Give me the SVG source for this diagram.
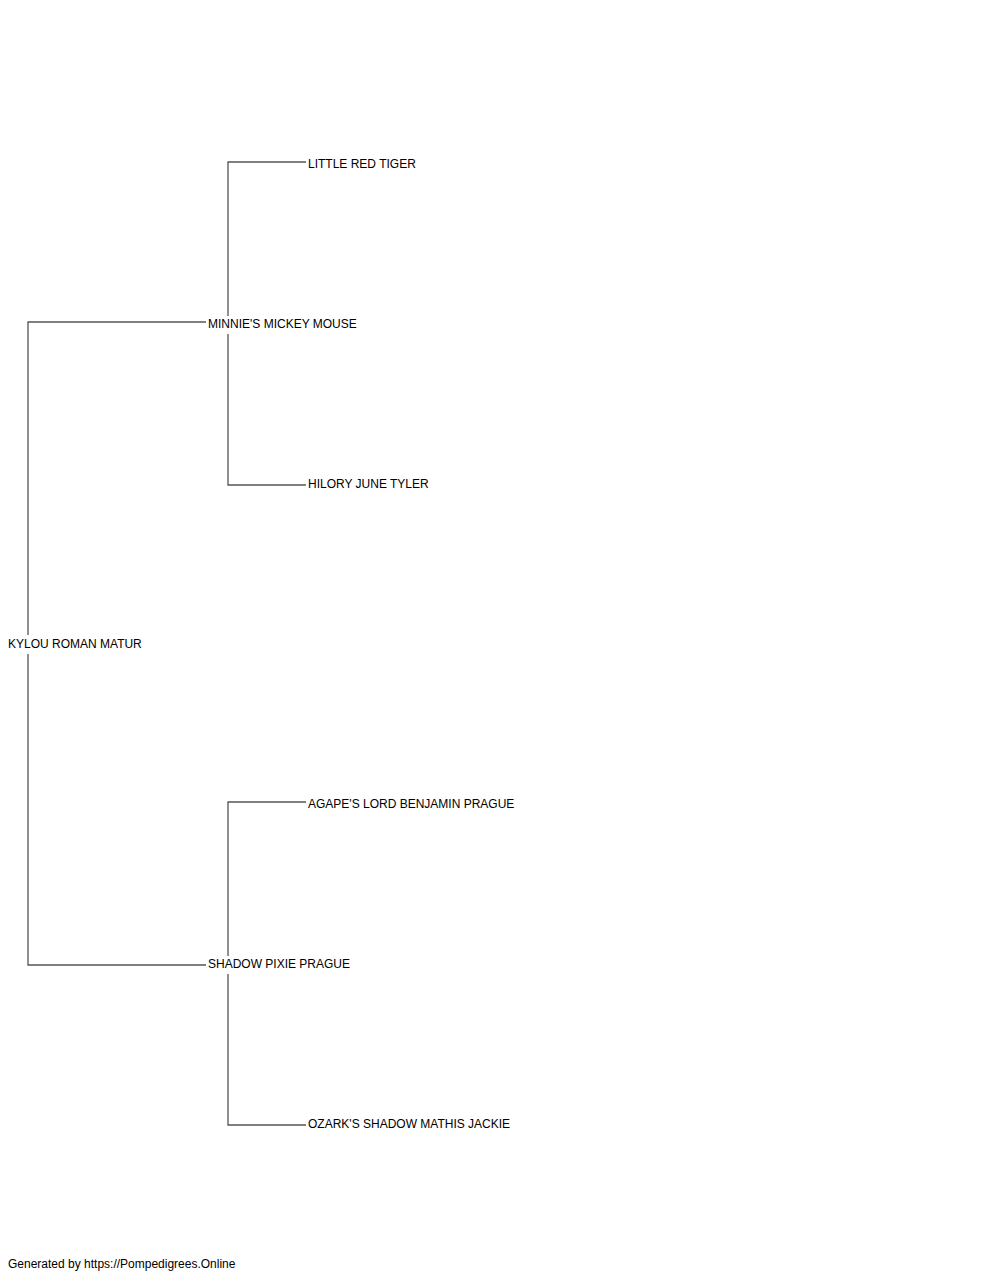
<svg xmlns="http://www.w3.org/2000/svg" width="1000" height="1280" viewBox="0 0 1000 1280">
<style>
.c{stroke:#555;stroke-width:1.3;fill:none}
.t{font-family:"Liberation Sans",Arial,sans-serif;font-size:12px;fill:#000}
</style>
<rect width="1000" height="1280" fill="#fff"/>
<g id="connectors">
<path class="c" d="M28,635 V322 H206"/>
<path class="c" d="M28,654 V965 H206"/>
<path class="c" d="M228,316 V162 H306"/>
<path class="c" d="M228,334 V485 H306"/>
<path class="c" d="M228,956 V802 H306"/>
<path class="c" d="M228,974 V1125 H306"/>
</g>
<g id="n0"><text class="t" x="8" y="648">KYLOU ROMAN MATUR</text></g>
<g id="n1"><text class="t" x="208" y="328">MINNIE'S MICKEY MOUSE</text></g>
<g id="n2"><text class="t" x="208" y="968">SHADOW PIXIE PRAGUE</text></g>
<g id="n3"><text class="t" x="308" y="168">LITTLE RED TIGER</text></g>
<g id="n4"><text class="t" x="308" y="488">HILORY JUNE TYLER</text></g>
<g id="n5"><text class="t" x="308" y="808">AGAPE'S LORD BENJAMIN PRAGUE</text></g>
<g id="n6"><text class="t" x="308" y="1128">OZARK'S SHADOW MATHIS JACKIE</text></g>
<g id="footer"><text class="t" x="8" y="1268">Generated by https://Pompedigrees.Online</text></g>
</svg>
